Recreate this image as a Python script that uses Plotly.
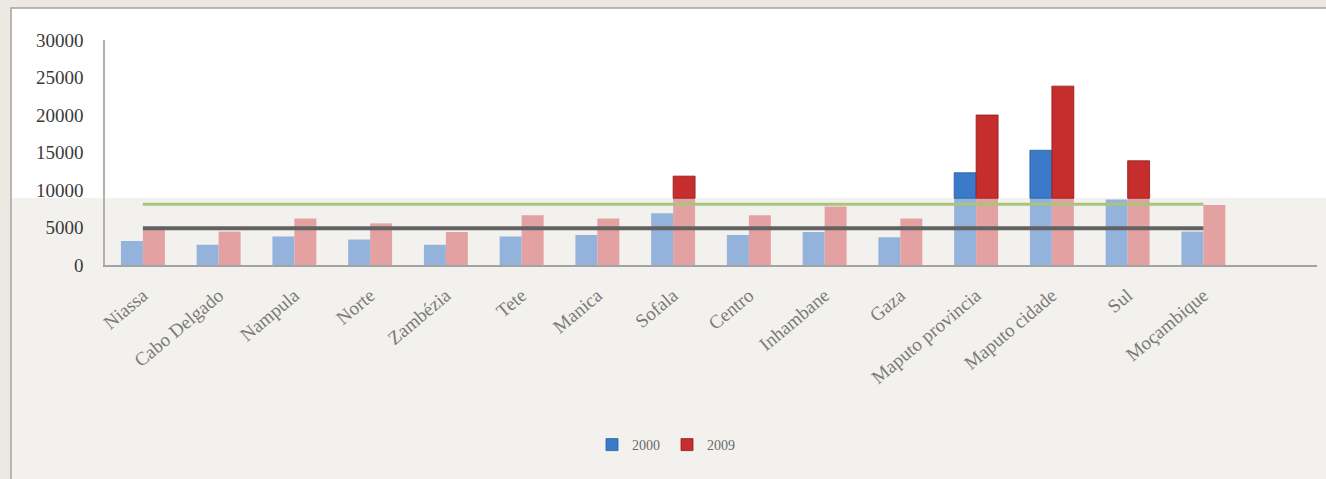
import plotly.graph_objects as go

# ---- data ----
categories = ["Niassa", "Cabo Delgado", "Nampula", "Norte", "Zambézia", "Tete", "Manica",
              "Sofala", "Centro", "Inhambane", "Gaza", "Maputo provincia", "Maputo cidade",
              "Sul", "Moçambique"]
values_2000 = [3200, 2700, 3800, 3400, 2700, 3800, 4000, 6900, 4000, 4400, 3700, 12300, 15300, 8750, 4450]
values_2009 = [4700, 4450, 6200, 5550, 4400, 6650, 6200, 11850, 6650, 7800, 6200, 20000, 23850, 13900, 8000]
line_green = [8100, 8100, 8100, 8100, 8100, 8100, 8100, 8100, 8100, 8100, 8100, 8100, 8100, 8100, 8100]
line_gray = [4900, 4900, 4900, 4900, 4900, 4900, 4900, 4900, 4900, 4900, 4900, 4900, 4900, 4900, 4900]
y_ticks = [0, 5000, 10000, 15000, 20000, 25000, 30000]
fade_level = 8900  # lower part of the picture is faded (reflection overlay)

W, H = 1326, 479
L, R, T, B = 105, 9, 40, 214
pw, ph = W - L - R, H - T - B


def px_x(px):
    return (px - L) / pw


def px_y(py):
    return (H - B - py) / ph


fig = go.Figure()

series = [
    ("2000", values_2000, "#3B79C9", "#93B2DC", "#2A5C9E"),
    ("2009", values_2009, "#C62D2D", "#E3A1A1", "#921C1C"),
]
for name, vals, strong, pale, edge in series:
    low = [min(v, fade_level) for v in vals]
    high = [(v - fade_level) if v > fade_level else None for v in vals]
    fig.add_trace(go.Bar(
        x=categories, y=low, name=name, offsetgroup=name, legendgroup=name,
        marker=dict(color=pale, line=dict(width=0)),
        showlegend=False, hoverinfo="skip",
    ))
    fig.add_trace(go.Bar(
        x=categories, y=high, base=fade_level, name=name, offsetgroup=name, legendgroup=name,
        marker=dict(color=strong, line=dict(color=edge, width=0.8)),
        showlegend=True,
    ))

fig.add_trace(go.Scatter(x=categories, y=line_green, mode="lines",
                         line=dict(color="#A9C57D", width=3), showlegend=False))
fig.add_trace(go.Scatter(x=categories, y=line_gray, mode="lines",
                         line=dict(color="#626262", width=4), showlegend=False))

shapes = [
    # chart frame (white)
    dict(type="rect", xref="paper", yref="paper", layer="below",
         x0=px_x(11), x1=px_x(1330), y0=px_y(8), y1=px_y(485),
         fillcolor="#FFFFFF", line=dict(color="#A4A19C", width=1.5)),
    # faded lower area
    dict(type="rect", xref="paper", yref="paper", layer="below",
         x0=px_x(12), x1=px_x(1330), y0=px_y(198), y1=px_y(485),
         fillcolor="#F3F1ED", line=dict(width=0)),
]

serif = "Liberation Serif"
fig.update_layout(
    width=W, height=H,
    margin=dict(l=L, r=R, t=T, b=B, pad=0),
    paper_bgcolor="#ECE8E2",
    plot_bgcolor="rgba(0,0,0,0)",
    barmode="group",
    bargap=0.42,
    bargroupgap=0,
    shapes=shapes,
    showlegend=True,
    legend=dict(orientation="h", x=px_x(592), xanchor="left", y=px_y(445), yanchor="middle",
                font=dict(family=serif, size=14, color="#6A6A6A"),
                bgcolor="rgba(0,0,0,0)", itemwidth=30, entrywidth=30, entrywidthmode="pixels",
                traceorder="normal"),
    font=dict(family=serif),
)
fig.update_xaxes(
    type="category", range=[-0.5, len(categories) + 0.5], automargin=False,
    showline=True, linecolor="#A3A3A3", linewidth=2,
    showgrid=False, ticks="", tickangle=-40, ticklabelstandoff=10,
    tickfont=dict(family=serif, size=19, color="#7A7A7A"),
)
fig.update_yaxes(
    range=[0, 30000], tickvals=y_ticks, ticktext=[str(v) for v in y_ticks], automargin=False,
    showline=True, linecolor="#B0B0B0", linewidth=1.5,
    showgrid=False, zeroline=False, ticks="", ticklabelstandoff=16,
    tickfont=dict(family=serif, size=19, color="#3A3A3A"),
)

fig.write_html("out.html", config={"displayModeBar": False},
               post_script="document.body.style.margin='0px';document.body.style.overflow='hidden';")
